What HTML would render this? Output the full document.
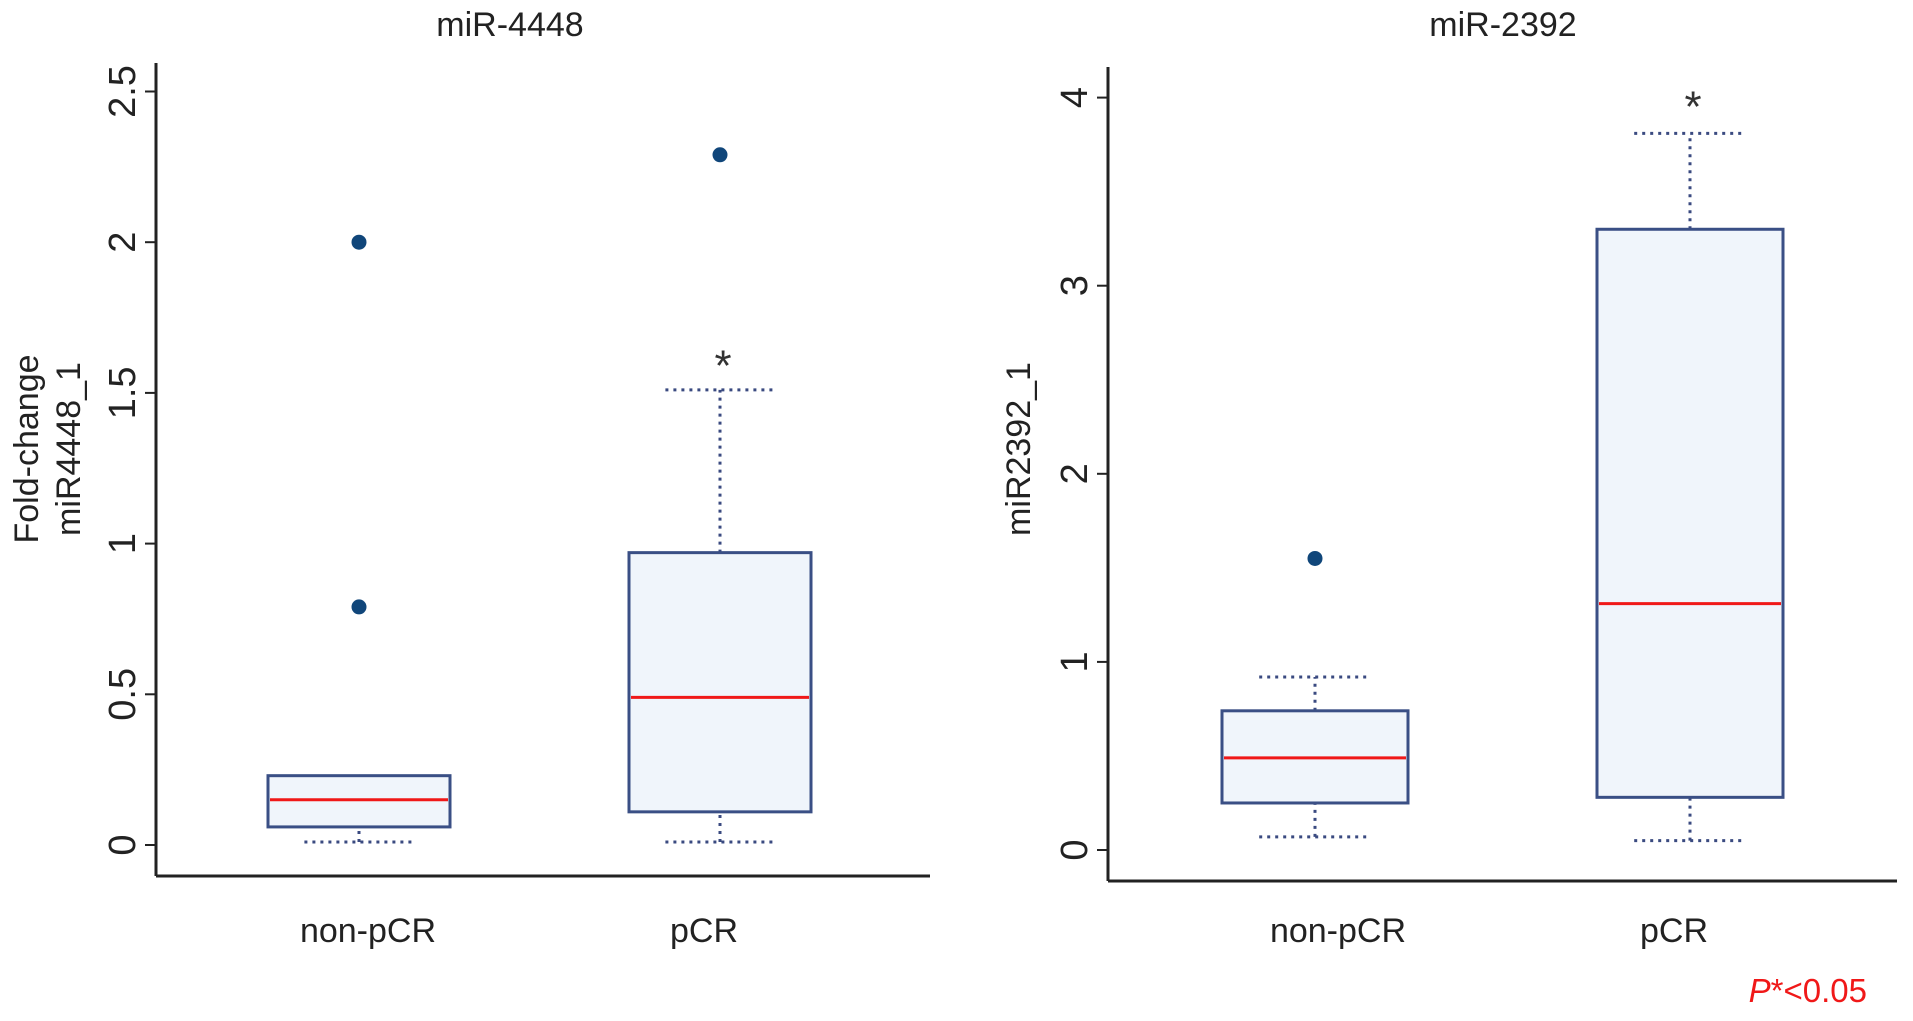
<!DOCTYPE html>
<html><head><meta charset="utf-8"><style>
body{margin:0;background:#fff;width:1913px;height:1016px;overflow:hidden;font-family:"Liberation Sans",sans-serif}
svg text{font-family:"Liberation Sans",sans-serif}
</style></head><body>
<svg id="chart" width="1913" height="1016"></svg>
<script>
const categories=["non-pCR","pCR"];
const p1Stats=[[0.01,0.06,0.15,0.23,0.23],[0.01,0.11,0.49,0.97,1.51]];
const p1Outliers=[[0.79,2.0],[2.29]];
const p1Ticks=[0,0.5,1,1.5,2,2.5];
const p1TickLabels=["0","0.5","1","1.5","2","2.5"];
const p1Star=[null,1.62];
const p2Stats=[[0.07,0.25,0.49,0.74,0.92],[0.05,0.28,1.31,3.3,3.81]];
const p2Outliers=[[1.55],[]];
const p2Ticks=[0,1,2,3,4];
const p2TickLabels=["0","1","2","3","4"];
const p2Star=[null,4.0];
const NS="http://www.w3.org/2000/svg";
const svg=document.getElementById('chart');
function mk(tag,attrs,parent){const e=document.createElementNS(NS,tag);for(const k in attrs)e.setAttribute(k,attrs[k]);(parent||svg).appendChild(e);return e;}
function panel(cfg){
  const g=mk('g',{});
  
  
  const y=v=>cfg.y0-(v-cfg.vmin)*(cfg.y0-cfg.yTop)/(cfg.vmax-cfg.vmin);
  const t=mk('text',{x:cfg.titleX,y:36,'font-size':34,'text-anchor':'middle',fill:'#222'},g);t.textContent=cfg.title;
  
  const ya=mk('line',{x1:cfg.ax,y1:cfg.axTop,x2:cfg.ax,y2:cfg.axBottom,stroke:'#222','stroke-width':3},g);
  
  const xa=mk('line',{x1:cfg.ax,y1:cfg.axBottom,x2:cfg.axRight,y2:cfg.axBottom,stroke:'#222','stroke-width':3},g);
  
  cfg.ticks.forEach((v,i)=>{
    mk('line',{x1:cfg.ax-11,y1:y(v),x2:cfg.ax,y2:y(v),stroke:'#222','stroke-width':2},g);
    const tl=mk('text',{x:0,y:0,'font-size':38,'text-anchor':'middle',fill:'#222',transform:`translate(${cfg.ax-21},${y(v)}) rotate(-90)`},g);
    tl.textContent=cfg.tickLabels[i];
    
  });
  cfg.ylabels.forEach((s,i)=>{
    const l=mk('text',{x:0,y:0,'font-size':34,'text-anchor':'middle',fill:'#222',transform:`translate(${cfg.ylabX[i]},449) rotate(-90)`},g);
    l.textContent=s;
  });
  categories.forEach((c,i)=>{
    const cx=cfg.cx[i],hw=cfg.hw,s=cfg.stats[i];
    const bg=mk('g',{},g);
    
    const dash={stroke:'#3a4a80','stroke-width':3,'stroke-dasharray':'3 5'};
    const cw=hw*0.6;
    mk('line',Object.assign({x1:cx,y1:y(s[0]),x2:cx,y2:y(s[1])},dash),bg);
    mk('line',Object.assign({x1:cx,y1:y(s[3]),x2:cx,y2:y(s[4])},dash),bg);
    mk('line',Object.assign({x1:cx-cw,y1:y(s[0]),x2:cx+cw,y2:y(s[0])},dash),bg);
    if(s[4]>s[3])mk('line',Object.assign({x1:cx-cw,y1:y(s[4]),x2:cx+cw,y2:y(s[4])},dash),bg);
    mk('rect',{x:cx-hw,y:y(s[3]),width:2*hw,height:y(s[1])-y(s[3]),fill:'#f0f5fb',stroke:'#3a4f85','stroke-width':3},bg);
    mk('line',{x1:cx-hw+2,y1:y(s[2]),x2:cx+hw-2,y2:y(s[2]),stroke:'#f01818','stroke-width':3},bg);
    cfg.outliers[i].forEach(o=>{const d=mk('circle',{cx:cx,cy:y(o),r:7.5,fill:'#10467a'},bg);
      });
    if(cfg.star[i]!=null){const st=mk('text',{x:cx+3,y:y(cfg.star[i])+24,'font-size':44,'text-anchor':'middle',fill:'#333'},bg);st.textContent='*';
      }
    const xl=mk('text',{x:cfg.lx[i],y:942,'font-size':34,'text-anchor':'middle',fill:'#222'},g);xl.textContent=c;
    
  });
}
panel({name:'panel-mir4448',title:'miR-4448',titleX:510,ax:156,axTop:63,axBottom:876,axRight:930,y0:845,yTop:91.5,vmin:0,vmax:2.5,
  ticks:p1Ticks,tickLabels:p1TickLabels,ylabels:['Fold-change','miR4448_1'],ylabX:[38,80],
  cx:[359,720],hw:91,lx:[368,704],stats:p1Stats,outliers:p1Outliers,star:p1Star});
panel({name:'panel-mir2392',title:'miR-2392',titleX:1503,ax:1108,axTop:67,axBottom:881,axRight:1897,y0:850,yTop:97.6,vmin:0,vmax:4,
  ticks:p2Ticks,tickLabels:p2TickLabels,ylabels:['miR2392_1'],ylabX:[1030],
  cx:[1315,1690],hw:93,lx:[1338,1674],stats:p2Stats,outliers:p2Outliers,star:p2Star});
const pn=mk('text',{x:1867,y:1002,'font-size':33,'text-anchor':'end',fill:'#f01818'});
pn.innerHTML='<tspan font-style="italic">P</tspan>*&lt;0.05';


</script>
</body></html>
